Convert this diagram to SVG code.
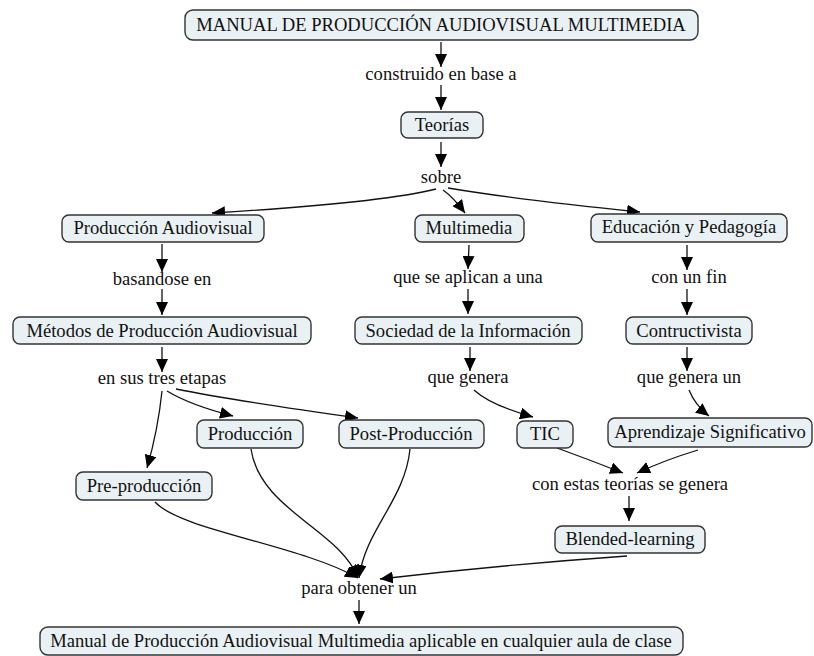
<svg xmlns="http://www.w3.org/2000/svg" width="814" height="656" viewBox="0 0 814 656">
<style>
.n rect{fill:#eaf1f4;stroke:#333;stroke-width:1.4}
text{font-family:"Liberation Serif","Times New Roman",serif;font-size:18.6px;fill:#111;text-anchor:middle}
.c path{fill:none;stroke:#111;stroke-width:1.3;marker-end:url(#a)}
</style>
<defs>
<marker id="a" viewBox="0 0 13 12" refX="13" refY="6" markerWidth="13" markerHeight="12" markerUnits="userSpaceOnUse" orient="auto">
<path d="M0,0 L13,6 L0,12 z" fill="#000"/>
</marker>
</defs>
<rect width="814" height="656" fill="#fff"/>
<g class="c" id="connectors">
<path d="M441,42 L441,67"/>
<path d="M441,85 L441,110"/>
<path d="M441,142 L441,167"/>
<path d="M436,189 Q380,203 212,213"/>
<path d="M443,190 Q453,197 465,213"/>
<path d="M448,188 Q520,200 640,212"/>
<path d="M162,244 L162,272"/>
<path d="M162,289 L162,315"/>
<path d="M162,347 L162,372"/>
<path d="M162,391 Q158,430 147,468"/>
<path d="M167,391 Q190,405 233,416"/>
<path d="M176,389 Q230,400 358,418"/>
<path d="M469,245 L468,269"/>
<path d="M468,289 L468,314"/>
<path d="M470,347 L470,371"/>
<path d="M474,390 Q490,405 533,417"/>
<path d="M687,245 L687,270"/>
<path d="M687,289 L687,315"/>
<path d="M687,347 L687,371"/>
<path d="M689,390 Q695,405 709,416"/>
<path d="M557,448 Q590,460 623,473"/>
<path d="M698,450 Q665,460 637,473"/>
<path d="M629,496 L629,521"/>
<path d="M627,556 Q500,565 380,579"/>
<path d="M155,502 C180,530 300,545 358,578"/>
<path d="M251,449 C260,510 340,530 358,578"/>
<path d="M410,449 C405,500 365,530 359,578"/>
<path d="M359,600 L359,624"/>
</g>
<g class="n" id="n-title"><rect x="185" y="10" width="513" height="30" rx="8"/><text x="441" y="31">MANUAL DE PRODUCCIÓN AUDIOVISUAL MULTIMEDIA</text></g>
<g id="l-construido"><text x="441" y="80">construido en base a</text></g>
<g class="n" id="n-teorias"><rect x="401" y="112" width="82" height="26" rx="7"/><text x="442" y="131">Teorías</text></g>
<g id="l-sobre"><text x="441" y="183">sobre</text></g>
<g class="n" id="n-prodaud"><rect x="62" y="215" width="202" height="27" rx="7"/><text x="163" y="234">Producción Audiovisual</text></g>
<g class="n" id="n-multimedia"><rect x="415" y="215" width="109" height="27" rx="7"/><text x="469" y="234">Multimedia</text></g>
<g class="n" id="n-educacion"><rect x="591" y="214" width="196" height="28" rx="7"/><text x="689" y="233">Educación y Pedagogía</text></g>
<g id="l-basandose"><text x="162" y="285">basandose en</text></g>
<g id="l-aplican"><text x="468" y="283">que se aplican a una</text></g>
<g id="l-fin"><text x="689" y="283">con un fin</text></g>
<g class="n" id="n-metodos"><rect x="13" y="317" width="298" height="27" rx="7"/><text x="162" y="337">Métodos de Producción Audiovisual</text></g>
<g class="n" id="n-sociedad"><rect x="355" y="317" width="227" height="27" rx="7"/><text x="468" y="337">Sociedad de la Información</text></g>
<g class="n" id="n-contructivista"><rect x="626" y="317" width="126" height="27" rx="7"/><text x="689" y="337">Contructivista</text></g>
<g id="l-etapas"><text x="162" y="384">en sus tres etapas</text></g>
<g id="l-genera"><text x="468" y="383">que genera</text></g>
<g id="l-generaun"><text x="689" y="383">que genera un</text></g>
<g class="n" id="n-produccion"><rect x="197" y="420" width="106" height="28" rx="7"/><text x="250" y="440">Producción</text></g>
<g class="n" id="n-post"><rect x="339" y="420" width="145" height="28" rx="7"/><text x="411" y="440">Post-Producción</text></g>
<g class="n" id="n-tic"><rect x="517" y="421" width="56" height="27" rx="7"/><text x="545" y="440">TIC</text></g>
<g class="n" id="n-aprendizaje"><rect x="608" y="418" width="204" height="29" rx="7"/><text x="710" y="438">Aprendizaje Significativo</text></g>
<g class="n" id="n-pre"><rect x="76" y="472" width="136" height="28" rx="7"/><text x="144" y="492">Pre-producción</text></g>
<g id="l-estas"><text x="630" y="490">con estas teorías se genera</text></g>
<g class="n" id="n-blended"><rect x="555" y="526" width="150" height="27" rx="7"/><text x="630" y="545">Blended-learning</text></g>
<g id="l-para"><text x="359" y="594">para obtener un</text></g>
<g class="n" id="n-manual"><rect x="40" y="627" width="643" height="28" rx="8"/><text x="361" y="647">Manual de Producción Audiovisual Multimedia aplicable en cualquier aula de clase</text></g>
</svg>
